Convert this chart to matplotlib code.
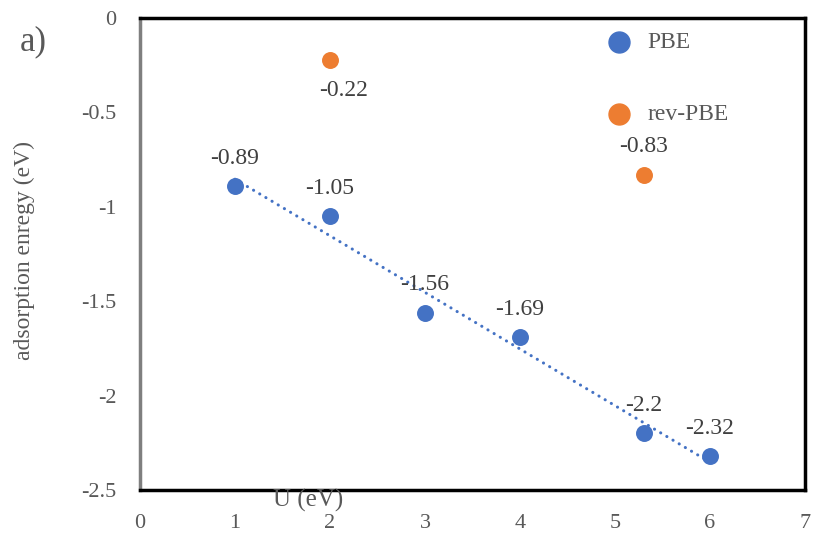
import matplotlib.pyplot as plt
import numpy as np

plt.rcParams['font.family'] = ['Liberation Serif', 'DejaVu Serif']
plt.rcParams['axes.unicode_minus'] = False

# data
u_pbe = [1, 2, 3, 4, 5.3, 6]
e_pbe = [-0.89, -1.05, -1.56, -1.69, -2.2, -2.32]
u_rev = [2, 5.3]
e_rev = [-0.22, -0.83]
x_ticks = [0, 1, 2, 3, 4, 5, 6, 7]
y_ticks = [0, -0.5, -1, -1.5, -2, -2.5]
y_tick_labels = ['0', '-0.5', '-1', '-1.5', '-2', '-2.5']

blue = '#4472C4'
orange = '#ED7D31'
grey = '#595959'
dark = '#404040'

fig = plt.figure(figsize=(8.16, 5.35), dpi=100)
ax = fig.add_axes([140 / 816, 1 - 490 / 535, 665 / 816, 472 / 535])

# linear trendline of PBE points (like Excel)
k, b = np.polyfit(u_pbe, e_pbe, 1)
xs = np.array([min(u_pbe), max(u_pbe)])
ax.plot(xs, k * xs + b, color=blue, lw=2.2, linestyle=(0, (0.05, 2.3)),
        dash_capstyle='round', zorder=2)

ax.scatter(u_pbe, e_pbe, s=125, color=blue, label='PBE', zorder=3)
ax.scatter(u_rev, e_rev, s=125, color=orange, label='rev-PBE', zorder=3)

# data labels
for x, y in zip(u_pbe, e_pbe):
    ax.annotate(f'{y:g}', (x, y), xytext=(0, 28), textcoords='offset pixels',
                ha='center', va='center', fontsize=17, color=dark)
ax.annotate(f'{e_rev[0]:g}', (u_rev[0], e_rev[0]), xytext=(14, -31),
            textcoords='offset pixels', ha='center', va='center',
            fontsize=17, color=dark)
ax.annotate(f'{e_rev[1]:g}', (u_rev[1], e_rev[1]), xytext=(0, 28),
            textcoords='offset pixels', ha='center', va='center',
            fontsize=17, color=dark)

ax.set_xlim(0, 7)
ax.set_ylim(-2.5, 0)
ax.set_xticks(x_ticks)
ax.set_yticks(y_ticks)
ax.set_yticklabels(y_tick_labels)
ax.tick_params(length=0, labelsize=16, colors=grey)
ax.tick_params(axis='x', pad=17)
ax.tick_params(axis='y', pad=17)

for s in ax.spines.values():
    s.set_color('black')
    s.set_linewidth(2.5)
ax.spines['left'].set_color('#7f7f7f')

leg = ax.legend(loc='upper left', bbox_to_anchor=(446 / 665, 1 - 4 / 472),
                frameon=False, fontsize=17, labelspacing=2.15,
                markerscale=1.35, handletextpad=0.2, borderaxespad=0)
for t in leg.get_texts():
    t.set_color(grey)

fig.text(308 / 816, 1 - 500 / 535, 'U (eV)', ha='center', va='center',
         fontsize=18, color=grey)
fig.text(24 / 816, 1 - 250 / 535, 'adsorption enregy (eV)', rotation=90,
         ha='center', va='center', fontsize=17, color=grey)
fig.text(33 / 816, 1 - 42 / 535, 'a)', ha='center', va='center',
         fontsize=25, color=grey)

fig.savefig('out.png', dpi=100)
